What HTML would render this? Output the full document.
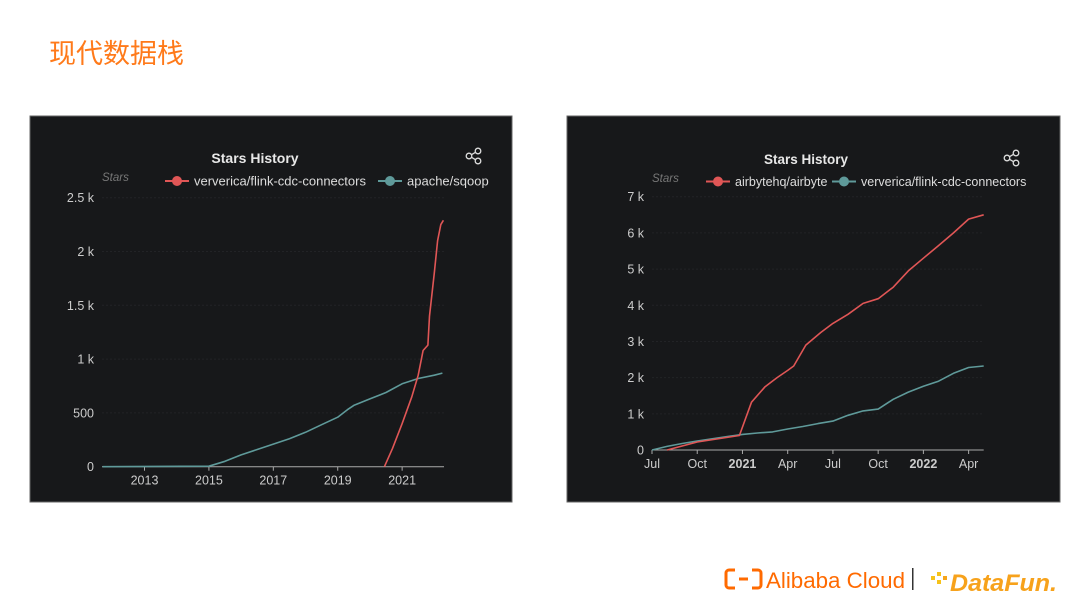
<!DOCTYPE html>
<html><head><meta charset="utf-8"><style>
html,body{margin:0;padding:0;background:#fff;width:1080px;height:608px;overflow:hidden}
svg{display:block}
text{font-family:"Liberation Sans","Noto Sans CJK SC",sans-serif}
</style></head><body>
<svg id="s" width="1080" height="608" viewBox="0 0 1080 608">
<text x="49" y="63" font-size="27" fill="#ff7a1a">现代数据栈</text>
<g>
<path d="M735 570h-6a3 3 0 0 0-3 3v12a3 3 0 0 0 3 3h6M752 570h6a3 3 0 0 1 3 3v12a3 3 0 0 1-3 3h-6M739 579h9" stroke="#ff6a00" stroke-width="3" fill="none"/>
<text x="766" y="588" font-size="22" fill="#ff6a00" textLength="139" lengthAdjust="spacingAndGlyphs">Alibaba Cloud</text>
</g>
<rect x="912" y="568" width="1.5" height="22" fill="#333"/>
<g>
<rect x="931" y="576" width="4" height="4" fill="#f6c21a"/><rect x="937" y="572" width="4" height="4" fill="#f6c21a"/><rect x="937" y="580" width="4" height="4" fill="#f6c21a"/><rect x="943" y="576" width="4" height="4" fill="#f6a51a"/>
<text x="950" y="591" font-size="24" font-weight="bold" font-style="italic" fill="#f7a21b" textLength="107" lengthAdjust="spacingAndGlyphs">DataFun.</text>
</g>
<g id="c1">
<rect x="30" y="116" width="482" height="386" fill="#17181a" stroke="#666" stroke-width="1"/>
<text x="255" y="163" font-size="14" font-weight="bold" fill="#e8e8e8" text-anchor="middle">Stars History</text>
<text x="102" y="181" font-size="11.5" font-style="italic" fill="#777">Stars</text>
</g>
<g id="c2">
<rect x="567" y="116" width="493" height="386" fill="#17181a" stroke="#666" stroke-width="1"/>
<text x="806" y="164" font-size="13.5" font-weight="bold" fill="#e8e8e8" text-anchor="middle">Stars History</text>
<text x="652" y="182" font-size="11.5" font-style="italic" fill="#777">Stars</text>
</g>
</svg>
<script>
// Left chart data
const leftYTicks=[0,500,1000,1500,2000,2500];
const leftYLabels=["0","500","1 k","1.5 k","2 k","2.5 k"];
const leftXTicks=[2013,2015,2017,2019,2021];
const sqoopYears=[2011.7,2015,2015.5,2016,2016.5,2017,2017.5,2018,2018.5,2019,2019.3,2019.5,2020,2020.5,2021,2021.5,2022,2022.25];
const sqoopStars=[0,5,50,110,160,210,260,320,390,460,530,570,630,690,770,820,850,870];
const flinkYears=[2020.45,2020.7,2021,2021.3,2021.5,2021.65,2021.8,2021.85,2022,2022.1,2022.2,2022.28];
const flinkStars=[0,170,400,650,850,1080,1130,1400,1800,2100,2250,2290];
// Right chart data
const rightYTicks=[0,1000,2000,3000,4000,5000,6000,7000];
const rightYLabels=["0","1 k","2 k","3 k","4 k","5 k","6 k","7 k"];
const rightXTicks=[0,3,6,9,12,15,18,21];
const rightXLabels=["Jul","Oct","2021","Apr","Jul","Oct","2022","Apr"];
const airbyteMonths=[1,3,5.8,6.6,7.5,8.3,9,9.4,10.2,11.2,12,13,14,15,16,17,18,19,20,21,22];
const airbyteStars=[0,220,400,1320,1750,2000,2200,2320,2900,3250,3500,3750,4050,4180,4500,4950,5300,5650,6000,6380,6500];
const flink2Months=[0,1,2,3,4,5,6,7,8,9,10,11,12,13,14,15,16,17,18,19,20,21,22];
const flink2Stars=[0,100,180,250,310,370,430,470,500,580,650,730,800,960,1080,1130,1400,1600,1760,1900,2120,2280,2320];

const NS="http://www.w3.org/2000/svg";
function mk(parent,tag,attrs){const e=document.createElementNS(NS,tag);for(const k in attrs)e.setAttribute(k,attrs[k]);parent.appendChild(e);return e;}
const RED="#e05656",TEAL="#5f9a9a";

function drawChart(g,o){
  const sx=v=>o.x0+(v-o.d0)/(o.d1-o.d0)*(o.x1-o.x0);
  const sy=v=>o.y0-(v/o.ymax)*(o.y0-o.yTop);
  o.yTicks.forEach((t,i)=>{
    if(i>0){const l=mk(g,'line',{x1:o.x0,x2:o.x1,y1:sy(t),y2:sy(t),stroke:'#222326','stroke-dasharray':'2,2'});
    
    }
    const tx=mk(g,'text',{x:o.x0-8,y:sy(t)+4.5,'font-size':12.5,fill:'#ccc','text-anchor':'end'});
    tx.textContent=o.yLabels[i];
    
    
  });
  const ax=mk(g,'line',{x1:o.x0,x2:o.x1,y1:o.y0,y2:o.y0,stroke:'#aaa','stroke-width':1});
  
  
  o.xTicks.forEach((t,i)=>{
    mk(g,'line',{x1:sx(t),x2:sx(t),y1:o.y0,y2:o.y0+4,stroke:'#aaa'});
    const tx=mk(g,'text',{x:sx(t),y:o.y0+18,'font-size':12.5,fill:'#ccc','text-anchor':'middle','font-weight':o.bold&&o.bold[i]?'bold':'normal'});
    tx.textContent=o.xLabels[i];
    
    
  });
  o.series.forEach(s=>{
    const d=s.xs.map((v,i)=>(i?'L':'M')+sx(v).toFixed(1)+','+sy(s.ys[i]).toFixed(1)).join('');
    const p=mk(g,'path',{d:d,fill:'none',stroke:s.color,'stroke-width':1.6,'stroke-linejoin':'round'});
    
    
  });
  o.legend.forEach(L=>{
    const lg=mk(g,'g',{});
    
    
    mk(lg,'line',{x1:L.x,x2:L.x+24,y1:o.legY,y2:o.legY,stroke:L.color,'stroke-width':2});
    mk(lg,'circle',{cx:L.x+12,cy:o.legY,r:5,fill:L.color});
    const t=mk(lg,'text',{x:L.x+29,y:o.legY+4.5,'font-size':o.legFs,fill:'#ddd'});t.textContent=L.label;
  });
  const sh=mk(g,'g',{stroke:'#ddd','stroke-width':1.3,fill:'none'});
  
  
  const cx=o.share[0],cy=o.share[1];
  mk(sh,'circle',{cx:cx-5,cy:cy,r:2.8});mk(sh,'circle',{cx:cx+4,cy:cy-5,r:2.8});mk(sh,'circle',{cx:cx+4,cy:cy+5,r:2.8});
  mk(sh,'line',{x1:cx-2.5,y1:cy-1.3,x2:cx+1.5,y2:cy-3.7});mk(sh,'line',{x1:cx-2.5,y1:cy+1.3,x2:cx+1.5,y2:cy+3.7});
}
drawChart(document.getElementById('c1'),{x0:102,x1:444,d0:2011.68,d1:2022.3,y0:466.7,yTop:197.7,ymax:2500,
  yTicks:leftYTicks,yLabels:leftYLabels,xTicks:leftXTicks,xLabels:leftXTicks.map(String),
  series:[{xs:sqoopYears,ys:sqoopStars,color:TEAL,name:'line-apache-sqoop'},{xs:flinkYears,ys:flinkStars,color:RED,name:'line-flink-cdc-connectors'}],
  legY:181,legFs:13,legend:[{x:165,color:RED,label:'ververica/flink-cdc-connectors'},{x:378,color:TEAL,label:'apache/sqoop'}],share:[474,156]});
drawChart(document.getElementById('c2'),{x0:652,x1:983.7,d0:0,d1:22,y0:450,yTop:196.7,ymax:7000,
  yTicks:rightYTicks,yLabels:rightYLabels,xTicks:rightXTicks,xLabels:rightXLabels,bold:[0,0,1,0,0,0,1,0],
  series:[{xs:flink2Months,ys:flink2Stars,color:TEAL,name:'line-flink-cdc-connectors'},{xs:airbyteMonths,ys:airbyteStars,color:RED,name:'line-airbyte'}],
  legY:181.5,legFs:12.5,legend:[{x:706,color:RED,label:'airbytehq/airbyte'},{x:832,color:TEAL,label:'ververica/flink-cdc-connectors'}],share:[1012,158]});
</script>
</body></html>
